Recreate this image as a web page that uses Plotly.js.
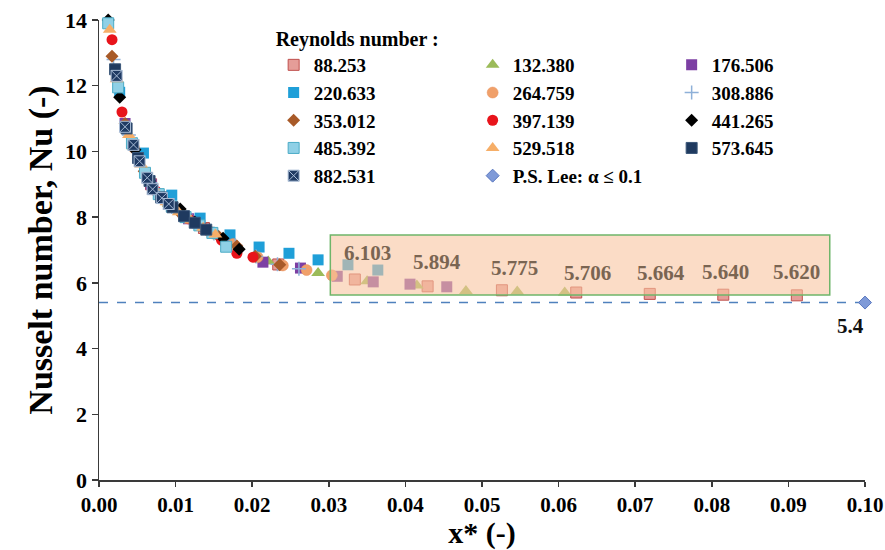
<!DOCTYPE html>
<html><head><meta charset="utf-8">
<script src="https://cdn.plot.ly/plotly-3.0.1.min.js"></script>
<style>html,body{margin:0;padding:0;background:#fff}#chart{width:885px;height:550px}</style>
</head><body><div id="chart"></div>
<script>
// Reynolds numbers (legend labels)
const reynolds = ['88.253','132.380','176.506','220.633','264.759','308.886','353.012','397.139','441.265','485.392','529.518','573.645','882.531'];

// x* values and Nusselt numbers
const x_88  = [0.0068,0.0137,0.0234,0.0334,0.0429,0.0526,0.0623,0.0719,0.0815,0.0911];
const nu_88 = [9.0,7.67,6.56,6.103,5.894,5.775,5.706,5.664,5.640,5.620];
const x_132  = [0.0045,0.0091,0.0156,0.0221,0.0286,0.0350,0.0415,0.0479,0.0546,0.0608];
const nu_132 = [10.15,8.4,7.42,6.65,6.3,6.05,5.92,5.75,5.74,5.71];
const x_176  = [0.0034,0.0068,0.0117,0.0166,0.0214,0.0263,0.0311,0.0358,0.0406,0.0454];
const nu_176 = [10.85,9.0,7.95,7.3,6.63,6.45,6.2,6.03,5.96,5.88];
const x_220  = [0.0027,0.0058,0.0095,0.0132,0.0171,0.0209,0.0248,0.0286,0.0325,0.0364];
const nu_220 = [11.8,9.95,8.67,7.97,7.46,7.09,6.9,6.7,6.55,6.39];
const x_264  = [0.0023,0.0046,0.0078,0.0110,0.0143,0.0175,0.0207,0.0240,0.0271,0.0304];
const nu_264 = [12.2,10.1,8.7,8.05,7.58,7.18,6.78,6.53,6.39,6.23];
const x_308  = [0.0019,0.0039,0.0067,0.0095,0.0122,0.0150,0.0178,0.0205,0.0233,0.0261];
const nu_308 = [12.8,10.5,9.05,8.32,7.87,7.5,7.15,6.8,6.57,6.43];
const x_353  = [0.0017,0.0034,0.0059,0.0083,0.0107,0.0131,0.0156,0.0180,0.0204,0.0236];
const nu_353 = [12.9,10.85,9.4,8.55,8.1,7.75,7.42,7.12,6.81,6.55];
const x_397  = [0.0017,0.0030,0.0052,0.0074,0.0095,0.0117,0.0138,0.0160,0.0180,0.0201];
const nu_397 = [13.4,11.2,9.75,8.8,8.32,7.95,7.65,7.3,6.9,6.78];
const x_441  = [0.0012,0.0027,0.0047,0.0066,0.0086,0.0106,0.0125,0.0144,0.0162,0.0183];
const nu_441 = [14.0,11.65,10.05,9.1,8.5,8.25,7.85,7.6,7.36,7.02];
const x_485  = [0.0012,0.0025,0.0043,0.0060,0.0078,0.0095,0.0113,0.0131,0.0148,0.0166];
const nu_485 = [13.9,11.95,10.25,9.35,8.7,8.32,8.0,7.75,7.52,7.1];
const x_529  = [0.0014,0.0023,0.0039,0.0055,0.0071,0.0088,0.0104,0.0120,0.0136,0.0152];
const nu_529 = [13.7,12.2,10.5,9.6,8.9,8.45,8.15,7.9,7.68,7.47];
const x_573  = [0.0021,0.0036,0.0051,0.0066,0.0081,0.0096,0.0111,0.0125,0.0140];
const nu_573 = [12.5,10.7,9.8,9.1,8.6,8.3,8.03,7.83,7.62];
const x_882  = [0.0023,0.0034,0.0045,0.0053,0.0063,0.0070,0.0082,0.0091];
const nu_882 = [12.3,10.75,10.2,9.7,9.2,8.85,8.58,8.4];

// P.S. Lee correlation
const leeName = 'P.S. Lee: α ≤ 0.1';
const leeX  = [0.1];
const leeNu = [5.4];
const leeLineX = [0, 0.1];

// Highlighted values (88.253 series, points 4..10)
const labelFrom = 3;

const allX  = [x_88,x_132,x_176,x_220,x_264,x_308,x_353,x_397,x_441,x_485,x_529,x_573,x_882];
const allNu = [nu_88,nu_132,nu_176,nu_220,nu_264,nu_308,nu_353,nu_397,nu_441,nu_485,nu_529,nu_573,nu_882];

// styles
const styles = [
  {symbol:'square', color:'#e59d98', line:'#c0504d', lw:1, size:11},
  {symbol:'triangle-up', color:'#9bbb59', line:'#9bbb59', lw:0, size:12},
  {symbol:'square', color:'#7c3fa3', line:'#7c3fa3', lw:0, size:11},
  {symbol:'square', color:'#1f9fd8', line:'#1f9fd8', lw:0, size:11},
  {symbol:'circle', color:'#f0a06a', line:'#e8905a', lw:0.5, size:11},
  {symbol:'cross-thin', color:'#8eb0d8', line:'#8eb0d8', lw:1.5, size:10},
  {symbol:'diamond', color:'#a85a28', line:'#a85a28', lw:0, size:10},
  {symbol:'circle', color:'#e8141b', line:'#e8141b', lw:0, size:11},
  {symbol:'diamond', color:'#000000', line:'#000000', lw:0, size:10},
  {symbol:'square', color:'#8fd0e6', line:'#4bacc6', lw:1, size:11},
  {symbol:'triangle-up', color:'#f6ae68', line:'#f6ae68', lw:0, size:12},
  {symbol:'square', color:'#1f3a5f', line:'#3b5779', lw:1, size:11},
  {symbol:'square-x', color:'#1f3a63', line:'#a9bcd6', lw:1, size:11}
];

const traces = [];
for (let i = 0; i < reynolds.length; i++) {
  const s = styles[i];
  traces.push({
    type:'scatter', mode:'markers', name: reynolds[i],
    x: allX[i], y: allNu[i], cliponaxis:false,
    marker:{symbol:s.symbol, color:s.color, size:s.size, line:{color:s.line, width:s.lw}}
  });
}
traces.push({
  type:'scatter', mode:'lines', x: leeLineX, y: [leeNu[0], leeNu[0]], showlegend:false,
  line:{color:'#4f81bd', width:1.5, dash:'dash'}, hoverinfo:'skip'
});
traces.push({
  type:'scatter', mode:'markers', name: leeName, x: leeX, y: leeNu, cliponaxis:false,
  marker:{symbol:'diamond', color:'#7f9ad8', size:10, line:{color:'#5a78c0', width:1}}
});

const serif = 'Liberation Serif, Times New Roman, serif';
const lblXshift = [13, 9, 13, 11, 11, 2, 0];
const lblYshift = [26, 24, 22, 20, 21, 23, 23];
const annotations = [];
for (let k = labelFrom; k < x_88.length; k++) {
  const j = k - labelFrom;
  annotations.push({
    x: x_88[k], y: nu_88[k], xref:'x', yref:'y', text: nu_88[k].toFixed(3), showarrow:false,
    xshift: lblXshift[j], yshift: lblYshift[j], yanchor:'middle',
    font:{family:serif, size:21, color:'#7a6552', weight:'bold'}
  });
}
annotations.push({
  x: leeX[0], y: leeNu[0], xref:'x', yref:'y', text: leeNu[0].toFixed(1), showarrow:false,
  xshift:-15, yshift:-23, yanchor:'middle',
  font:{family:serif, size:21, color:'#111', weight:'bold'}
});

const layout = {
  width:885, height:550,
  margin:{l:99, r:20, t:20, b:70},
  paper_bgcolor:'#fff', plot_bgcolor:'#fff',
  showlegend:true,
  legend:{
    orientation:'h', x:0.228, y:1.0, xanchor:'left', yanchor:'top',
    entrywidth:154, entrywidthmode:'pixels', bgcolor:'rgba(255,255,255,0)',
    font:{family:serif, size:19, color:'#000', weight:'bold'},
    title:{text:'Reynolds number :', side:'top', font:{family:serif, size:20, color:'#000', weight:'bold'}},
    itemclick:false
  },
  xaxis:{
    range:[0,0.1], dtick:0.01, tick0:0, tickformat:'.2f',
    showline:true, linecolor:'#3a3a3a', linewidth:1.5, ticks:'outside', ticklen:5, tickcolor:'#3a3a3a', tickwidth:1.5,
    showgrid:false, zeroline:false,
    tickfont:{family:serif, size:21, color:'#000', weight:'bold'},
    title:{text:'x* (-)', standoff:14, font:{family:serif, size:30, color:'#000', weight:'bold'}}
  },
  yaxis:{
    range:[0,14], dtick:2, tick0:0,
    showline:true, linecolor:'#3a3a3a', linewidth:1.5, ticks:'outside', ticklen:6, tickcolor:'#3a3a3a', tickwidth:1.5,
    showgrid:false, zeroline:false,
    tickfont:{family:serif, size:22, color:'#000', weight:'bold'},
    title:{text:'Nusselt number, Nu (-)', standoff:2, font:{family:serif, size:34, color:'#000', weight:'bold'}}
  },
  shapes:[{
    type:'rect', xref:'x', yref:'y', x0:0.0302, x1:0.0954, y0:5.63, y1:7.46,
    fillcolor:'rgba(248,197,160,0.6)', line:{color:'#6fb56a', width:1.5}, layer:'above'
  }],
  annotations: annotations
};

Plotly.newPlot('chart', traces, layout, {displayModeBar:false, staticPlot:true});
</script>
</body></html>
